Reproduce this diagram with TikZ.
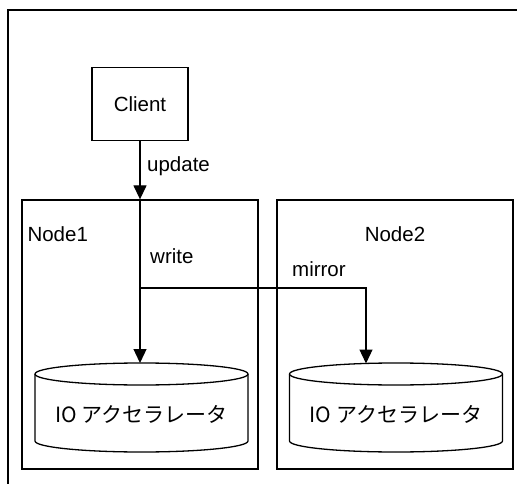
\documentclass[tikz,border=0pt]{standalone}
\usepackage{fontspec}
\setmainfont{Liberation Sans}
\newfontfamily\jpfont{Noto Sans CJK JP}
\usetikzlibrary{arrows.meta,calc}

\tikzset{
  frm/.style ={draw, line width=1.3pt},
  box/.style ={rectangle, draw, line width=1.3pt, inner sep=0pt},
  dbtxt/.style={font=\jpfont\fontsize{21}{24}\selectfont, inner sep=0pt},
  lbl/.style ={font=\fontsize{20.5}{24}\selectfont, inner sep=0pt},
  fl/.style  ={-{Triangle[length=14pt,width=13pt]}, line width=1.3pt},
  % storage drum, 213 x 89
  disk/.pic={
    \draw[line width=1.3pt,fill=white] (-106.5,33.5) -- (-106.5,-33.5)
      arc[start angle=180,end angle=360,x radius=106.5,y radius=11] -- (106.5,33.5);
    \draw[line width=1.3pt] (0,33.5) ellipse[x radius=106.5,y radius=11];
    \coordinate (-top) at (0,44.5);
    \node[dbtxt] (-txt) at (0,-6.5) {IO アクセラレータ};
  }
}

\begin{document}
\begin{tikzpicture}[x=1pt,y=1pt]
  \useasboundingbox (0,0) rectangle (517,-484);
  \clip (0,0) rectangle (517,-484);
  % outer frame, open to the right and bottom
  \draw[frm] (8,-10) rectangle (530,-500);

  \node[box,lbl,minimum width=96pt,minimum height=73pt] (client) at (140,-104) {Client};

  \node[box,minimum width=236pt,minimum height=269pt] (n1) at (140,-334.5) {};
  \node[box,minimum width=236pt,minimum height=269pt] (n2) at (395,-334.5) {};
  \node[lbl,anchor=west] (n1lbl) at ($(n1.north west)+(6,-35)$) {Node1};
  \node[lbl] (n2lbl) at ($(n2.north)+(0,-35)$) {Node2};

  % storage on each node
  \pic (io1) at (141.5,-407.5) {disk};
  \pic (io2) at (396,-407.5) {disk};

  \coordinate (entry) at (client.south |- n1.north);
  \coordinate (split) at (client.south |- 0,-288);

  \draw[fl] (client) -- (entry);
  \draw[fl] (entry) -- (entry |- io1-top);
  \draw[fl] (split) -| ($(io2-top)+(-30,-0.5)$);

  \node[lbl,anchor=west] at (147,-166) {update};
  \node[lbl,anchor=west] at (150,-256) {write};
  \node[lbl,anchor=west] at (292,-269) {mirror};
\end{tikzpicture}
\end{document}
